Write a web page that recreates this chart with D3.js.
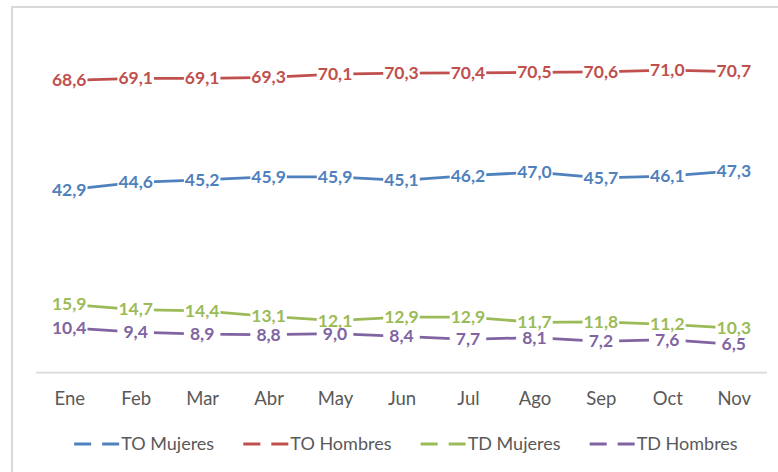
<!DOCTYPE html>
<html>
<head>
<meta charset="utf-8">
<script src="https://cdn.jsdelivr.net/npm/d3@7"></script>
<style>
  html, body { margin: 0; padding: 0; background: #fff; }
  svg { display: block; }
</style>
</head>
<body>
<svg class="svg"></svg>
<script>
// data
const months = ['Ene', 'Feb', 'Mar', 'Abr', 'May', 'Jun', 'Jul', 'Ago', 'Sep', 'Oct', 'Nov'];
const toMujeres = [42.9, 44.6, 45.2, 45.9, 45.9, 45.1, 46.2, 47.0, 45.7, 46.1, 47.3];
const toHombres = [68.6, 69.1, 69.1, 69.3, 70.1, 70.3, 70.4, 70.5, 70.6, 71.0, 70.7];
const tdMujeres = [15.9, 14.7, 14.4, 13.1, 12.1, 12.9, 12.9, 11.7, 11.8, 11.2, 10.3];
const tdHombres = [10.4, 9.4, 8.9, 8.8, 9.0, 8.4, 7.7, 8.1, 7.2, 7.6, 6.5];
const seriesNames = ['TO Mujeres', 'TO Hombres', 'TD Mujeres', 'TD Hombres'];

const series = [
  { name: seriesNames[0], values: toMujeres, color: '#4F81BD' },
  { name: seriesNames[1], values: toHombres, color: '#C0504D' },
  { name: seriesNames[2], values: tdMujeres, color: '#9BBB59' },
  { name: seriesNames[3], values: tdHombres, color: '#8064A2' }
];

const width = 778;
const height = 472;
const font = 'Lato, "Open Sans", sans-serif';

const svg = d3.select('.svg')
  .attr('width', width)
  .attr('height', height);

// chart frame (only top and left edges are in view)
svg.append('path')
  .attr('d', `M 12 ${height} L 12 7 L ${width} 7`)
  .attr('fill', 'none')
  .attr('stroke', '#d9d9d9')
  .attr('stroke-width', 2);

const x = d3.scalePoint()
  .domain(months)
  .range([36, 767])
  .padding(0.5);

const y = d3.scaleLinear()
  .domain([0, 80])
  .range([372, 32]);

// category axis
const xAxis = svg.append('g')
  .attr('transform', `translate(0,${y(0)})`)
  .call(d3.axisBottom(x).tickSize(0).tickPadding(20));

xAxis.select('.domain')
  .attr('d', `M ${x.range()[0]} 0.5 H ${x.range()[1]}`)
  .attr('stroke', '#d9d9d9')
  .attr('stroke-width', 1.75);

xAxis.selectAll('text')
  .attr('fill', '#595959')
  .style('font-family', font)
  .style('font-size', '18.5px');

const line = d3.line()
  .x((d, i) => x(months[i]))
  .y(d => y(d));

svg.append('g')
  .selectAll('path')
  .data(series)
  .join('path')
  .attr('fill', 'none')
  .attr('stroke', d => d.color)
  .attr('stroke-width', 2.75)
  .attr('d', d => line(d.values));

const fmt = v => v.toFixed(1).replace('.', ',');

// data labels sit on a white box so the line stops at the text
const probe = svg.append('text')
  .style('font-family', font)
  .style('font-size', '17.5px')
  .style('font-weight', 'bold')
  .text('10,4');
const boxW = probe.node().getComputedTextLength() + 2;
probe.remove();

const points = series.flatMap(s =>
  s.values.map((v, i) => ({ v, m: months[i], color: s.color }))
);

const boxG = svg.append('g');
boxG.selectAll('rect')
  .data(points)
  .join('rect')
  .attr('x', d => x(d.m) - boxW / 2)
  .attr('y', d => y(d.v) - 6)
  .attr('width', boxW)
  .attr('height', 12)
  .attr('fill', '#fff');

const textG = svg.append('g');
textG.selectAll('text')
  .data(points)
  .join('text')
  .attr('x', d => x(d.m))
  .attr('y', d => y(d.v))
  .attr('text-anchor', 'middle')
  .attr('dy', '0.34em')
  .attr('fill', d => d.color)
  .style('font-family', font)
  .style('font-size', '17.5px')
  .style('font-weight', 'bold')
  .text(d => fmt(d.v));

// legend
const legend = svg.append('g')
  .attr('transform', 'translate(0,444)');

const items = legend.selectAll('g')
  .data(series)
  .join('g');

items.append('line')
  .attr('x1', 0)
  .attr('x2', 45)
  .attr('stroke', d => d.color)
  .attr('stroke-width', 3)
  .attr('stroke-dasharray', '17,11');

items.append('text')
  .attr('x', 47)
  .attr('dy', '0.35em')
  .attr('fill', '#595959')
  .style('font-family', font)
  .style('font-size', '18px')
  .text(d => d.name);

let cx = 0;
const pos = [];
items.each(function () {
  pos.push(cx);
  cx += this.getBBox().width + 29;
});
const total = cx - 29;
const start = 406 - total / 2;
items.attr('transform', (d, i) => `translate(${start + pos[i]},0)`);
</script>
</body>
</html>
